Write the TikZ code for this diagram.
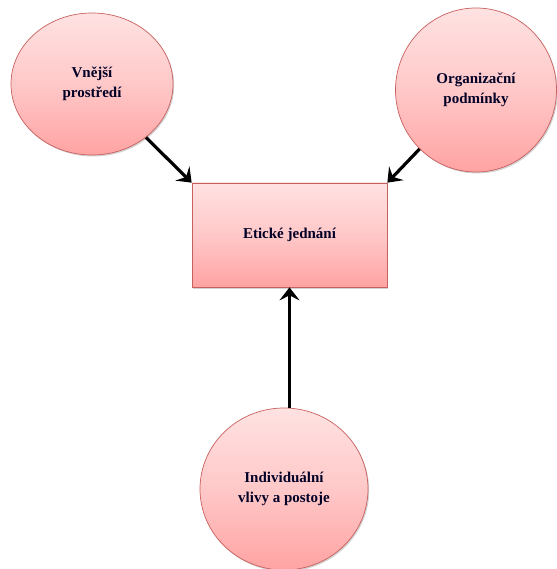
\documentclass[tikz,border=0pt]{standalone}
\usepackage{fontspec}
\setmainfont{Liberation Serif}
\usetikzlibrary{shapes.geometric,arrows.meta,shadows}
\definecolor{topc}{HTML}{FFE2E2}
\definecolor{midc}{HTML}{FFC8C8}
\definecolor{botc}{HTML}{FFA3A3}
\definecolor{edgec}{HTML}{C8605E}
\begin{document}
\begin{tikzpicture}[x=1pt,y=-1pt,
  blob/.style={draw=edgec, line width=0.7pt, top color=topc, bottom color=botc, middle color=midc,
    drop shadow={shadow xshift=1.2pt, shadow yshift=-1.5pt, opacity=0.35},
    font=\fontsize{15}{20}\selectfont\bfseries, text=black!85!blue, align=center, inner sep=0pt},
  oval/.style={blob, ellipse},
  box/.style={blob, rectangle},
  arr/.style={line width=3.2pt, -{Stealth[length=13pt,width=20pt,inset=5pt]}}]
\useasboundingbox (0,0) rectangle (556,569);
\node[oval, minimum width=162pt, minimum height=142pt] (v) at (92,84) {Vnější\\prostředí};
\node[oval, minimum width=161pt, minimum height=164pt] (o) at (476,90) {Organizační\\podmínky};
\node[box, minimum width=195pt, minimum height=104pt] (e) at (289.5,235) {Etické jednání};
\node[oval, minimum width=168pt, minimum height=162pt] (i) at (284,489) {Individuální\\vlivy a postoje};
\draw[arr] (v) -- (e.north west);
\draw[arr] (o) -- (e.north east);
\draw[arr] (e.south |- i.north) -- (e.south);
\end{tikzpicture}
\end{document}
